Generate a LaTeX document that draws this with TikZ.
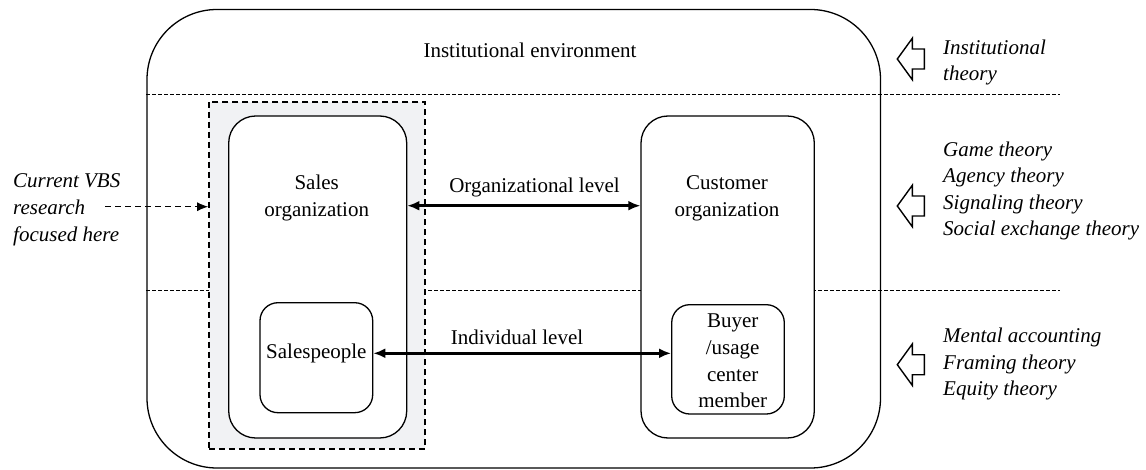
\documentclass[tikz,border=0pt]{standalone}
\usepackage{fontspec}
\setmainfont{LiberationSerif}[Extension=.ttf, UprightFont=*-Regular, ItalicFont=*-Italic, BoldFont=*-Bold, BoldItalicFont=*-BoldItalic]
\usetikzlibrary{arrows.meta}
\definecolor{focusgray}{HTML}{F1F2F4}
\begin{document}
\begin{tikzpicture}[x=1pt,y=-1pt,
  txt/.style={font=\fontsize{21}{27}\selectfont, inner sep=0pt, align=center},
  ittxt/.style={font=\fontsize{21}{26.5}\selectfont\itshape, inner sep=0pt, align=left, anchor=west},
  box/.style={draw, line width=1.3pt, fill=white, inner sep=0pt},
  levelarrow/.style={line width=2.4pt, {Latex[length=12pt,width=10pt]}-{Latex[length=12pt,width=10pt]}},
  sepline/.style={dashed, dash pattern=on 3.5pt off 2.5pt, line width=0.7pt},
  hollowarrow/.pic={\draw[line width=1.4pt, line join=miter] (0,0) -- (15,-20.7) -- (15,-10) -- (27,-10) -- (27,10) -- (15,10) -- (15,20.7) -- cycle;}
]
\useasboundingbox (0,0) rectangle (1146,470);
% outer institutional environment
\node[box, rounded corners=70pt, minimum width=733.5pt, minimum height=458.5pt] (outer) at (513.75,238.75) {};
\node[txt] (envlabel) at (530,50) {Institutional environment};
% separator lines
\coordinate (sepAend) at (1060,94.5);
\coordinate (sepBend) at (1060,290.5);
\draw[sepline] (outer.west |- sepAend) -- (sepAend);
\draw[sepline] (outer.west |- sepBend) -- (sepBend);
% focus area
\node[draw, dashed, dash pattern=on 6pt off 4pt, line width=1.8pt, fill=focusgray, minimum width=216pt, minimum height=347.3pt, inner sep=0pt] (focus) at (317,275.35) {};
% sales organization
\node[box, rounded corners=27pt, minimum width=178pt, minimum height=322pt] (salesorg) at (317.7,277) {};
\node[txt] (saleslabel) at (316.7,198) {Sales\\organization};
\node[box, rounded corners=18pt, minimum width=112.7pt, minimum height=110pt] (salespeople) at (316.35,357.7) {};
\node[txt] (salespeoplelabel) at (316.35,353) {Salespeople};
% customer organization
\node[box, rounded corners=27pt, minimum width=173.3pt, minimum height=322pt] (custorg) at (727.65,277) {};
\node[txt] (custlabel) at (727,198) {Customer\\organization};
\node[box, rounded corners=18pt, minimum width=112.6pt, minimum height=109.3pt] (buyer) at (728,359.35) {};
\node[txt, font=\fontsize{21}{26.7}\selectfont] (buyerlabel) at (732.7,361) {Buyer\\/usage\\center\\member};
% level arrows
\coordinate (orgy) at (0,205.7);
\coordinate (indy) at (0,353.3);
\draw[levelarrow] (salesorg.east |- orgy) -- (custorg.west |- orgy);
\draw[levelarrow] (salespeople.east |- indy) -- (buyer.west |- indy);
\node[txt] (orglevel) at (534.5,187) {Organizational level};
\node[txt] (indlevel) at (517,337) {Individual level};
% current VBS research
\node[ittxt, font=\fontsize{21}{27}\selectfont\itshape] (vbs) at (13,210) {Current VBS\\research\\focused here};
\coordinate (vbsstart) at (105,206.7);
\draw[dashed, dash pattern=on 6pt off 4pt, line width=0.9pt, -{Latex[length=11pt,width=9pt]}] (vbsstart) -- (focus.west |- vbsstart);
% theory arrows
\pic at (897.3,59) {hollowarrow};
\pic at (897.3,206) {hollowarrow};
\pic at (897.3,364.7) {hollowarrow};
\node[ittxt] (insttheory) at (943,62.5) {Institutional\\theory};
\node[ittxt] (orgtheory) at (943,191) {Game theory\\Agency theory\\Signaling theory\\Social exchange theory};
\node[ittxt] (indtheory) at (943,364) {Mental accounting\\Framing theory\\Equity theory};
\end{tikzpicture}
\end{document}
